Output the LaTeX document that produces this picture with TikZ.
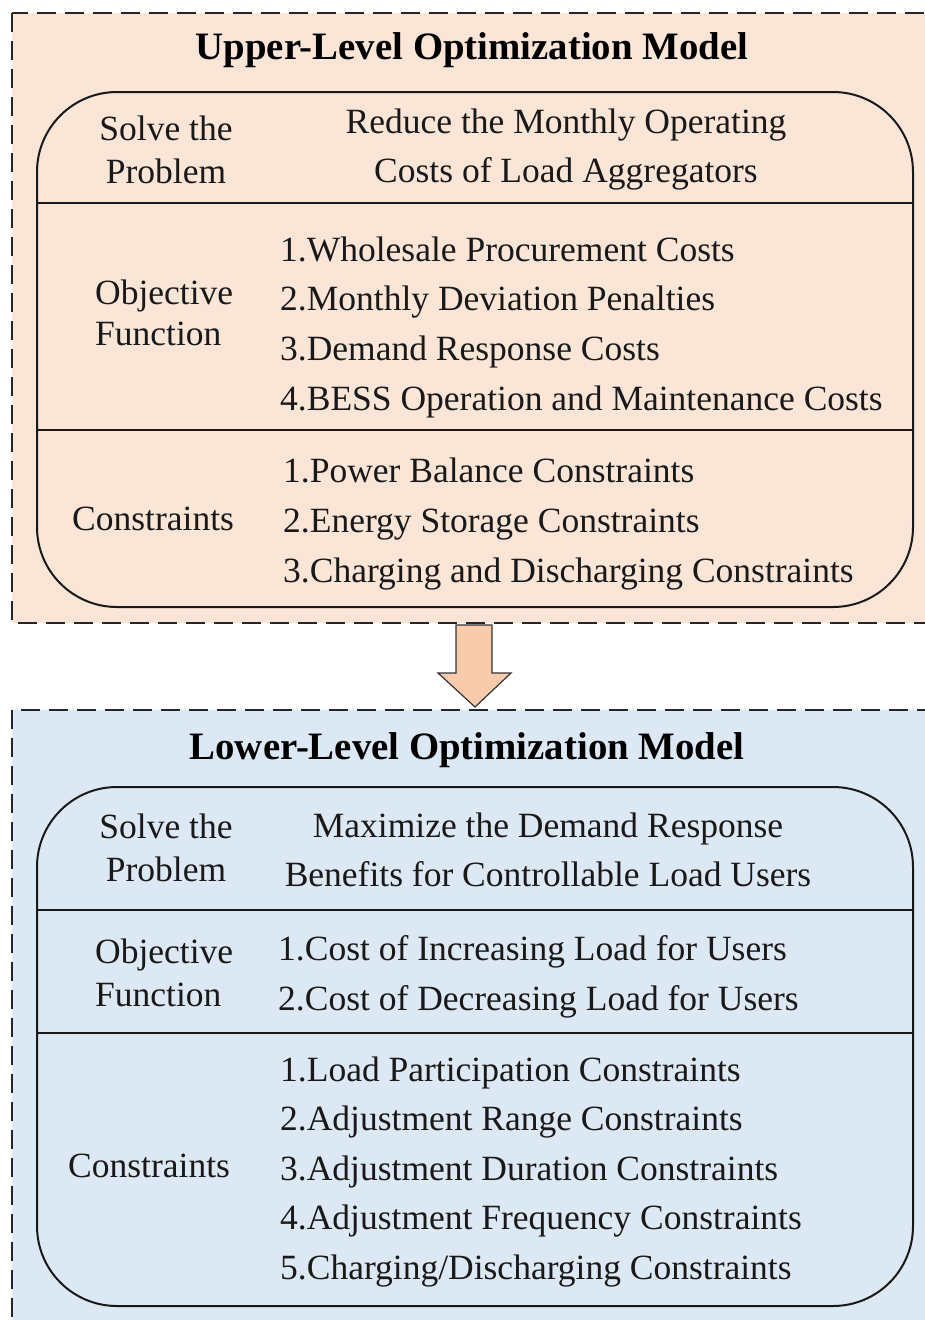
\documentclass[tikz,border=0pt]{standalone}
\usepackage{fontspec}
\setmainfont{Liberation Serif}
\usetikzlibrary{positioning}
\definecolor{upfill}{HTML}{FBE5D6}
\definecolor{lowfill}{HTML}{DCE8F4}
\definecolor{arrfill}{HTML}{F8CBAD}
\tikzstyle{outer} = [draw=black!85,line width=2.4pt,dash pattern=on 19pt off 9pt]
\tikzstyle{panel} = [draw=black!90,line width=2pt,rounded corners=80pt]
\tikzstyle{sep} = [black!90,line width=2pt]
\tikzstyle{txt} = [inner sep=0pt,text=black!90,font=\fontsize{35.5}{43}\selectfont]
\tikzstyle{item} = [txt,anchor=base west]
\tikzstyle{head} = [inner sep=0pt,font=\bfseries\fontsize{38.8}{44}\selectfont]
\begin{document}
\begin{tikzpicture}[x=1pt,y=-1pt]
      \useasboundingbox(0,0)rectangle(925,1320);
      \clip(0,0)rectangle(925,1320);
      % upper level
      \draw[outer,fill=upfill](12,13)rectangle(950,623);
      \node[head](upTitle)at(472,50){Upper-Level Optimization Model};
      \draw[panel](37,92)rectangle(913,607);
      \draw[sep](37,203)--(913,203)(37,430)--(913,430);
      \node[txt,align=center](upSolve)at(166,150){Solve the\\Problem};
      \node[txt,align=center,font=\fontsize{35.5}{49}\selectfont](upGoal)at(566,150){Reduce the Monthly Operating\\Costs of Load Aggregators};
      \node[txt,align=left,anchor=west,font=\fontsize{35.5}{41}\selectfont](upObj)at(95,313){Objective\\Function};
      \foreach \t[count=\i] in {Wholesale Procurement Costs,Monthly Deviation Penalties,Demand Response Costs,BESS Operation and Maintenance Costs}
        \node[item](upObj-\i)at(280,{261+49.7*(\i-1)}){\i.\t};
      \node[txt,anchor=west](upCon)at(72,519){Constraints};
      \foreach \t[count=\i] in {Power Balance Constraints,Energy Storage Constraints,Charging and Discharging Constraints}
        \node[item](upCon-\i)at(283,{482+50*(\i-1)}){\i.\t};
      % arrow between levels
      \draw[fill=arrfill,draw=black!80,line width=1.2pt](456,625)--(492,625)--(492,673)--(511,673)--(475,707)--(438,673)--(456,673)--cycle;
      % lower level
      \draw[outer,fill=lowfill](12,710)rectangle(950,1340);
      \node[head](lowTitle)at(467,750){Lower-Level Optimization Model};
      \draw[panel](37,787)rectangle(913,1306);
      \draw[sep](37,910)--(913,910)(37,1033)--(913,1033);
      \node[txt,align=center](lowSolve)at(166,848){Solve the\\Problem};
      \node[txt,align=center,font=\fontsize{35.5}{49}\selectfont](lowGoal)at(548,850){Maximize the Demand Response\\Benefits for Controllable Load Users};
      \node[txt,align=left,anchor=west](lowObj)at(95,973){Objective\\Function};
      \foreach \t[count=\i] in {Cost of Increasing Load for Users,Cost of Decreasing Load for Users}
        \node[item](lowObj-\i)at(278,{960+50*(\i-1)}){\i.\t};
      \node[txt,anchor=west](lowCon)at(68,1166){Constraints};
      \foreach \t[count=\i] in {Load Participation Constraints,Adjustment Range Constraints,Adjustment Duration Constraints,Adjustment Frequency Constraints,Charging/Discharging Constraints}
        \node[item](lowCon-\i)at(280,{1081+49.5*(\i-1)}){\i.\t};
    \end{tikzpicture}
\end{document}
